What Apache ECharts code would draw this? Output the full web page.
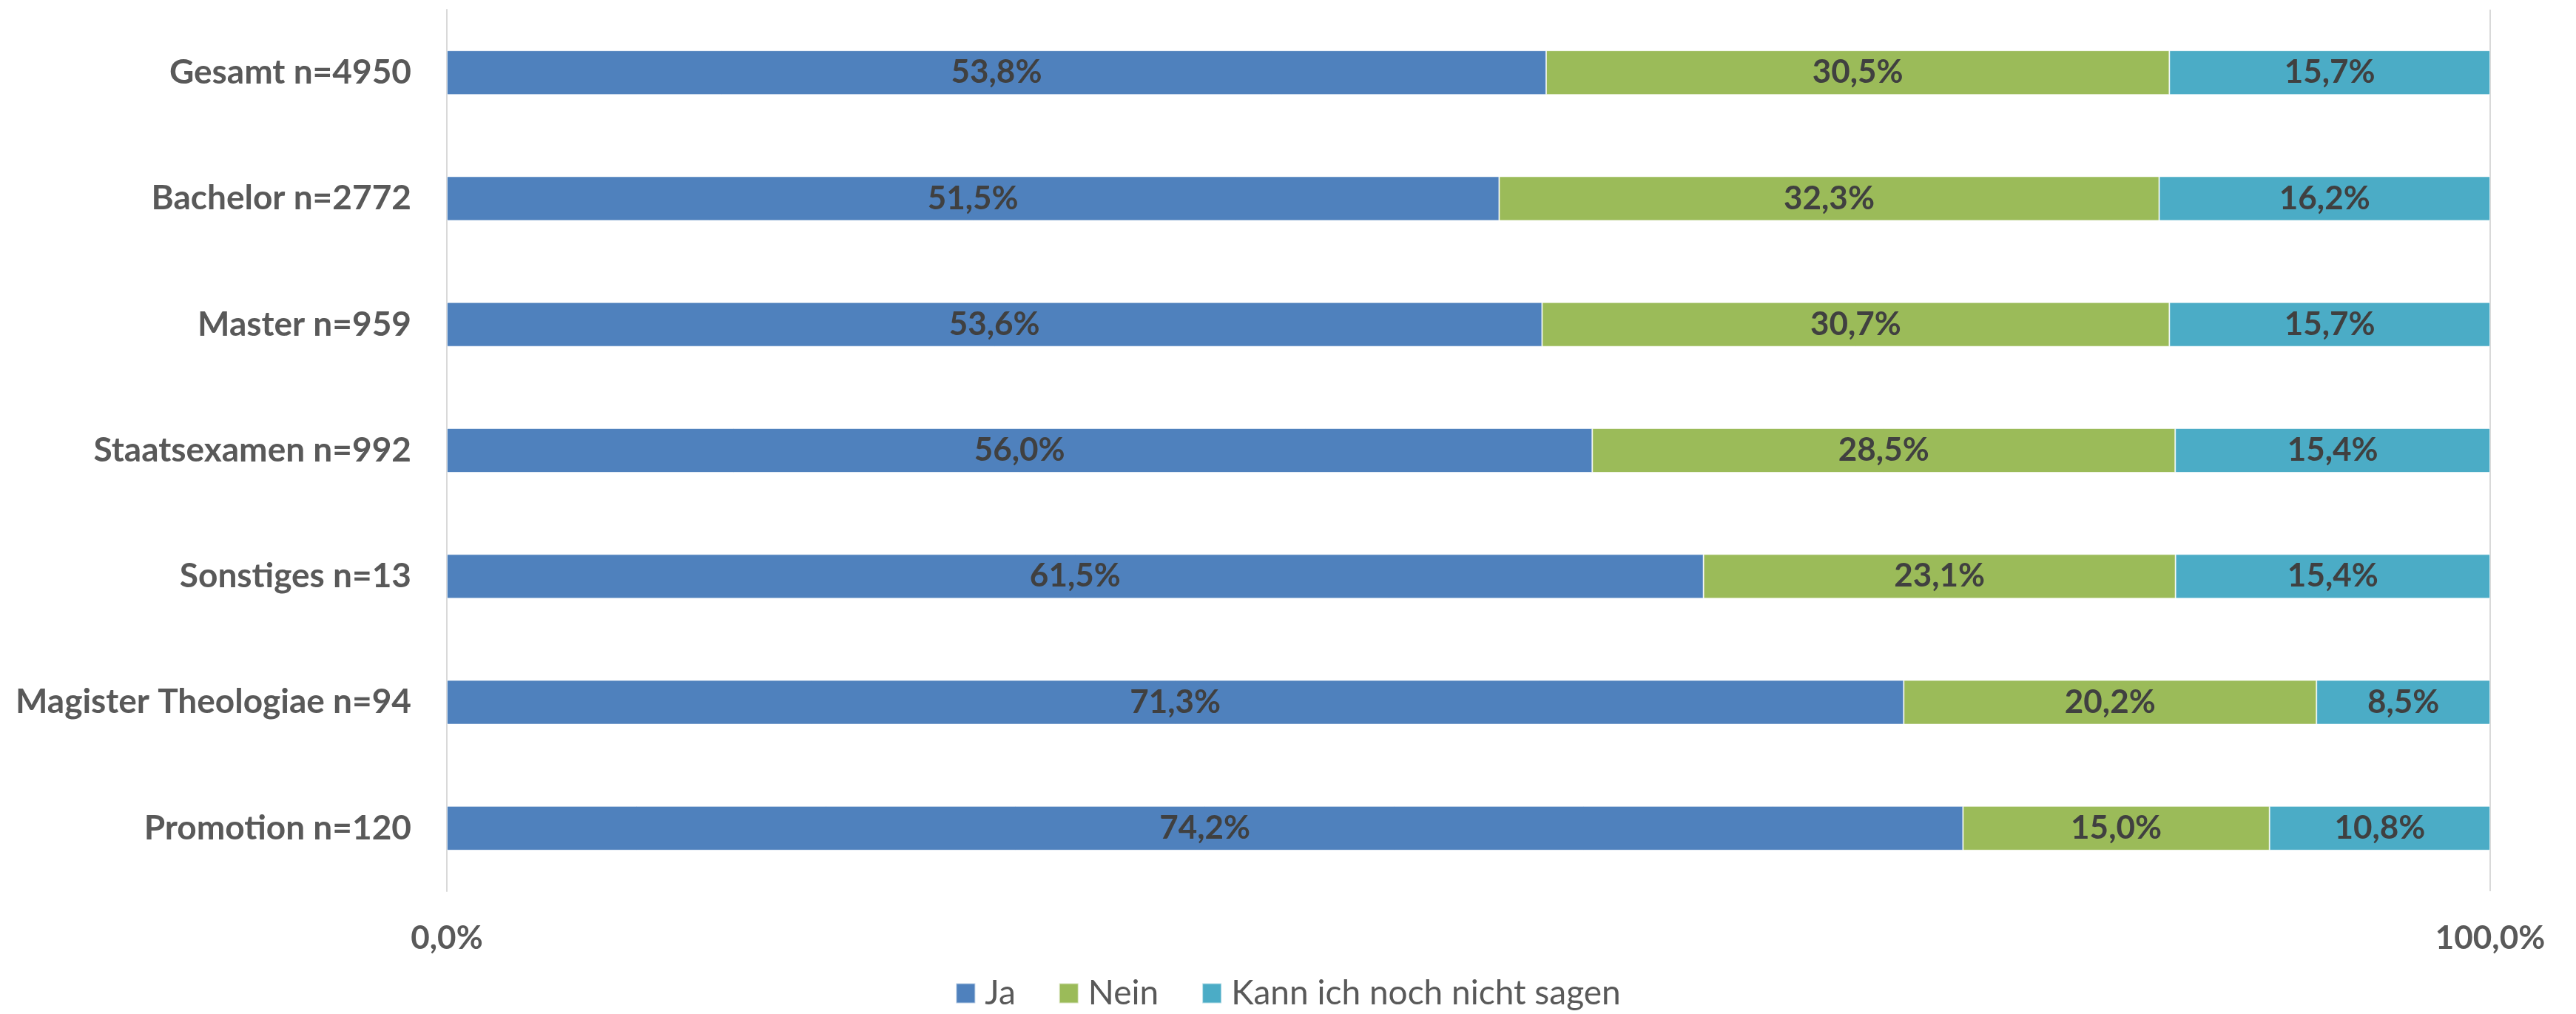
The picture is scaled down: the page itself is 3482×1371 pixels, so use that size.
<!DOCTYPE html>
<html>
<head>
<meta charset="utf-8">
<script src="https://cdn.jsdelivr.net/npm/echarts@6/dist/echarts.min.js"></script>
<style>
  html, body { margin: 0; padding: 0; background: #fff; }
  #chart { width: 3482px; height: 1371px; }
</style>
</head>
<body>
<div id="chart"></div>
<script>
// Kategorien (von oben nach unten)
const categories = [
  'Gesamt n=4950',
  'Bachelor n=2772',
  'Master n=959',
  'Staatsexamen n=992',
  'Sonstiges n=13',
  'Magister Theologiae n=94',
  'Promotion n=120'
]
const seriesNames = ['Ja', 'Nein', 'Kann ich noch nicht sagen']
const ja = [53.8, 51.5, 53.6, 56.0, 61.5, 71.3, 74.2]
const nein = [30.5, 32.3, 30.7, 28.5, 23.1, 20.2, 15.0]
const kann = [15.7, 16.2, 15.7, 15.4, 15.4, 8.5, 10.8]
const xTicks = [0, 100]

const colors = ['#4F81BD', '#9BBB59', '#4BACC6']
const fontFamily = 'Lato'

// wie Excel 100%-gestapelt: jede Zeile auf 100 normieren
const rowTotals = categories.map((c, i) => ja[i] + nein[i] + kann[i])
const fmt = v => v.toFixed(1).replace('.', ',') + '%'

const makeSeries = (name, values, idx) => ({
  name: name,
  type: 'bar',
  stack: 'total',
  barWidth: 60,
  itemStyle: { color: colors[idx], borderColor: 'rgba(255,255,255,0.6)', borderWidth: 1 },
  label: {
    show: true,
    position: 'inside',
    formatter: p => fmt(values[p.dataIndex]),
    color: '#404040',
    fontFamily: fontFamily,
    fontWeight: 'bold',
    fontSize: 44
  },
  data: values.map((v, i) => v / rowTotals[i] * 100)
})

const chart = echarts.init(document.getElementById('chart'), null, { renderer: 'canvas' })

const option = {
  backgroundColor: '#fff',
  animation: false,
  grid: { left: 604, right: 116, top: 13, bottom: 166 },
  legend: {
    data: seriesNames,
    bottom: 0,
    left: 'center',
    icon: 'rect',
    itemWidth: 26,
    itemHeight: 27,
    itemGap: 58,
    textStyle: { color: '#595959', fontFamily: fontFamily, fontSize: 46, padding: [0, 0, 0, 8] }
  },
  xAxis: {
    type: 'value',
    min: xTicks[0],
    max: xTicks[1],
    interval: xTicks[1] - xTicks[0],
    axisLine: { show: false },
    axisTick: { show: false },
    splitLine: { show: true, lineStyle: { color: '#d9d9d9', width: 2 } },
    axisLabel: {
      margin: 42,
      color: '#595959',
      fontFamily: fontFamily,
      fontWeight: 'bold',
      fontSize: 44,
      formatter: v => fmt(v)
    }
  },
  yAxis: {
    type: 'category',
    inverse: true,
    data: categories,
    axisLine: { show: true, lineStyle: { color: '#d9d9d9', width: 2 } },
    axisTick: { show: false },
    axisLabel: {
      margin: 48,
      color: '#595959',
      fontFamily: fontFamily,
      fontWeight: 'bold',
      fontSize: 46
    }
  },
  series: [
    makeSeries(seriesNames[0], ja, 0),
    makeSeries(seriesNames[1], nein, 1),
    makeSeries(seriesNames[2], kann, 2)
  ]
}

chart.setOption(option)
window.addEventListener('resize', () => chart.resize())
</script>
</body>
</html>
